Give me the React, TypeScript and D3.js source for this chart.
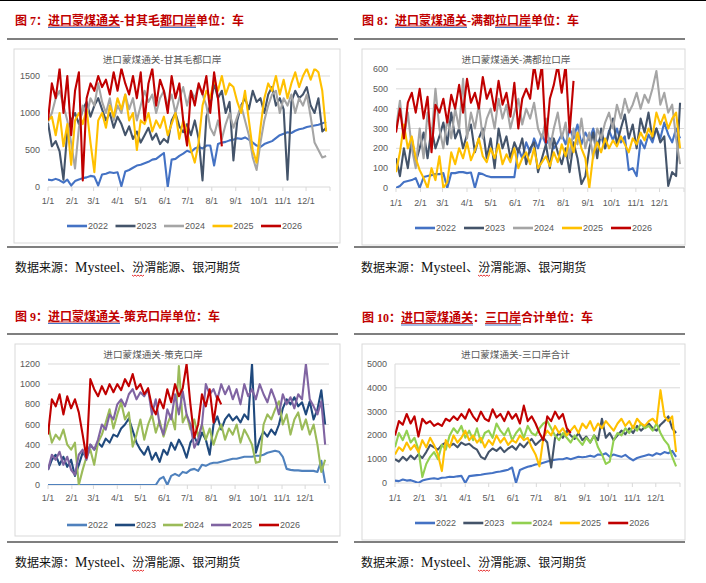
import * as d3 from 'd3'

// one value every 5 days, starting 1/1
const STEP = 5
const YEAR_DAYS = 365
const years = ['2022', '2023', '2024', '2025', '2026']
const monthStarts = [0, 31, 59, 90, 120, 151, 181, 212, 243, 273, 304, 334]
const monthLabels = ['1/1', '2/1', '3/1', '4/1', '5/1', '6/1', '7/1', '8/1', '9/1', '10/1', '11/1', '12/1']

// 甘其毛都口岸
const gqmd2022 = [
  100, 90, 110, 90, 60, 100, 20, 80, 100, 120,
  130, 150, 140, 20, 170, 180, 200, 190, 200, 10,
  210, 230, 260, 290, 300, 320, 340, 370, 380, 420,
  460, 0, 370, 380, 420, 450, 490, 470, 520, 540,
  520, 560, 560, 290, 580, 600, 610, 630, 640, 660,
  650, 670, 640, 600, 560, 540, 580, 600, 620, 660,
  700, 720, 740, 730, 760, 780, 790, 810, 820, 830,
  840, 860, 880,
]
const gqmd2023 = [
  870, 550, 620, 480, 100, 750, 900, 1000, 850, 1050,
  1150, 950, 1100, 1200, 1050, 900, 1000, 800, 950, 850,
  700, 820, 650, 750, 600, 700, 800, 640, 720, 580,
  650, 600, 900, 1000, 820, 740, 850, 700, 900, 650,
  90, 950, 1100, 1400, 1200, 1300, 1000, 1150, 360, 900,
  1100, 1200, 1050, 1300, 1150, 1200, 1000, 1250, 1350, 1100,
  1200, 1050, 100, 1150, 1300, 1200, 1250, 1350, 1100, 1000,
  1200, 750, 800,
]
const gqmd2024 = [
  880, 1000, 1200, 1300, 1100, 900, 600, 250, 800, 1100,
  950, 1200, 1100, 1400, 1150, 1000, 1200, 900, 1100, 1000,
  1250, 1050, 1200, 900, 1100, 1300, 1150, 1250, 1000, 1200,
  1300, 1100, 1250, 1000, 1200, 1350, 1100, 1300, 1200, 1380,
  1250, 1100, 800, 700, 900, 650, 850, 1000, 800, 950,
  1100, 900, 700, 400, 230, 600, 900, 1100, 1250, 1300,
  1000, 1200, 1100, 1250, 1000, 1200, 1100, 1250, 950, 600,
  500, 400, 420,
]
const gqmd2025 = [
  900, 950, 700, 1000, 550, 850, 300, 900, 1000, 850,
  1050, 600, 200, 900, 1000, 800, 1100, 950, 1200, 1050,
  1250, 900, 1000, 500, 900, 850, 1000, 750, 900, 800,
  950, 700, 850, 1000, 650, 900, 750, 500, 330, 600,
  1100, 1300, 1200, 1450, 1300, 1500, 1250, 1400, 1350, 1150,
  1000, 1300, 900, 500, 330, 800, 1200, 1400, 1300, 1500,
  1250, 1450, 1200, 1400, 1550, 1350, 1500, 1600, 1450, 1600,
  1550, 1300, 750,
]
const gqmd2026 = [
  900, 1400, 1200, 1600, 1000, 1500, 700, 1300, 1550, 90,
  1200, 1400, 1300, 1500, 1350, 1450, 1250, 1550, 1300, 1600,
  1400, 1250, 1500, 1200, 1550, 900, 1400, 1600, 1100, 1450,
  1300, 1000, 1500, 1200, 1400, 900, 560, 1300, 1100, 1400,
  1250, 1500, 1000, 1550, 1200, 550,
]

// 满都拉口岸
const mdl2022 = [
  0, 10, 30, 35, 40, 50, 0, 55, 60, 65,
  70, 70, 75, 0, 75, 75, 80, 80, 75, 78,
  0, 75, 70, 60, 55, 55, 55, 55, 55, 55,
  55, 200, 150, 230, 180, 250, 200, 270, 220, 250,
  200, 230, 270, 220, 300, 250, 320, 220, 280, 240,
  300, 220, 260, 200, 290, 240, 300, 230, 260, 90,
  100, 60, 240, 200, 270, 230, 300, 250, 330, 270,
  230, 300, 250,
]
const mdl2023 = [
  150, 60, 200, 100, 250, 130, 200, 280, 150, 300,
  200, 260, 330, 220, 380, 250, 300, 200, 270, 320,
  180, 250, 300, 150, 250, 100, 300, 200, 260, 150,
  230, 180, 250, 120, 200, 230, 80, 150, 220, 100,
  250, 180, 120, 200, 80, 230, 150, 20, 60, 200,
  280, 150, 300, 200, 280, 350, 220, 300, 370, 250,
  320, 200, 350, 280, 380, 250, 300, 230, 260, 10,
  80, 60, 430,
]
const mdl2024 = [
  300, 440, 250, 380, 200, 100, 300, 150, 380, 250,
  500, 300, 200, 350, 250, 400, 300, 550, 250, 380,
  300, 420, 250, 350, 400, 300, 450, 350, 420, 300,
  380, 450, 320, 400, 350, 430, 300, 250, 350, 200,
  300, 380, 250, 330, 150, 300, 220, 350, 200, 280,
  150, 300, 250, 330, 380, 300, 420, 350, 450, 380,
  420, 480, 400, 470, 430, 500, 590, 420, 480, 380,
  420, 250, 120,
]
const mdl2025 = [
  80, 180, 320, 200, 260, 150, 90, 50, 0, 100,
  40, 160, 0, 30, 180, 120, 200, 150, 230, 140,
  190, 250, 160, 130, 200, 150, 220, 120, 170, 130,
  200, 100, 150, 180, 120, 200, 100, 130, 160, 110,
  180, 130, 220, 160, 250, 180, 280, 200, 150, 0,
  170, 230, 180, 250, 200, 240, 210, 260, 220, 180,
  250, 220, 280, 240, 300, 260, 380, 320, 370, 300,
  350, 380, 200,
]
const mdl2026 = [
  280, 400, 250, 430, 480, 380, 500, 350, 460, 180,
  420, 380, 450, 330, 470, 400, 520, 380, 550, 430,
  480, 400, 560, 450, 500, 390, 540, 420, 480, 360,
  530, 300, 450, 500, 450, 620, 500, 620, 230, 450,
  520, 620, 480, 620, 280, 540,
]

// 策克口岸
const ck2022 = [
  0, 0, 0, 0, 0, 0, 0, 0, 0, 0,
  0, 0, 0, 0, 0, 0, 0, 0, 0, 0,
  0, 0, 0, 0, 0, 0, 0, 0, 0, 60,
  80, 0, 90, 110, 90, 130, 120, 150, 160, 140,
  200, 190, 210, 220, 220, 230, 240, 250, 260, 260,
  270, 280, 280, 280, 290, 290, 300, 320, 330, 340,
  330, 280, 160, 150, 145, 145, 140, 140, 140, 140,
  130, 240, 20,
]
const ck2023 = [
  150, 250, 300, 200, 280, 180, 250, 90, 200, 320,
  280, 400, 350, 420, 380, 460, 420, 500, 480, 560,
  600, 660, 540, 420, 350, 300, 380, 250, 320, 230,
  350, 300, 420, 350, 450, 380, 270, 420, 480, 400,
  520, 450, 300, 600, 680, 550, 650, 700, 640, 680,
  620, 700, 650, 1200, 320, 450, 530, 480, 550, 500,
  600, 760, 850, 800, 870, 780, 820, 700, 830, 650,
  750, 940, 600,
]
const ck2024 = [
  600, 420, 500, 450, 550, 400, 350, 420, 0, 150,
  280, 350, 200, 420, 500, 620, 750, 560, 700, 820,
  650, 720, 380, 500, 650, 450, 600, 700, 520, 640,
  480, 600, 700, 550, 1180, 620, 700, 550, 650, 480,
  600, 450, 560, 400, 520, 600, 450, 560, 500, 600,
  420, 550, 480, 400, 220, 230, 600, 700, 650, 750,
  830, 600, 700, 500, 650, 720, 550, 650, 500, 600,
  400, 130, 250,
]
const ck2025 = [
  150, 300, 250, 330, 200, 280, 150, 100, 300, 350,
  250, 400, 350, 450, 600, 550, 700, 650, 800, 850,
  780, 900, 950, 850, 920, 880, 950, 700, 850, 600,
  500, 750, 650, 900, 700, 930, 700, 600, 370, 450,
  600, 1000, 900, 950, 850, 1000, 900, 980, 850, 950,
  800, 1000, 880, 950, 850, 1000, 900, 820, 950, 850,
  700, 900, 800, 870, 760, 900, 850, 1200, 850, 780,
  700, 830, 400,
]
const ck2026 = [
  500, 850, 780, 900, 700, 880, 760, 850, 720, 500,
  270, 1050, 950, 880, 980, 900, 1000, 920, 1000, 940,
  1050, 980, 1100, 950, 1000, 900, 960, 780, 700, 850,
  760, 950, 820, 1000, 880, 960, 1200, 800, 470, 600,
  900, 780, 950, 620, 880, 800,
]

// 三口岸合计
const total2022 = [
  100, 80, 150, 100, 120, 60, 0, 100, 150, 180,
  200, 170, 220, 230, 260, 250, 280, 300, 0, 290,
  310, 330, 350, 380, 400, 420, 460, 480, 520, 560,
  650, 0, 550, 620, 680, 720, 780, 800, 850, 900,
  950, 980, 1000, 1000, 1050, 1000, 1050, 1100, 1080, 1100,
  1150, 1100, 1200, 1180, 1250, 1100, 1200, 1150, 1100, 1180,
  1050, 950, 1050, 1100, 1150, 1200, 1150, 1250, 1200, 1300,
  1250, 1350, 1100,
]
const total2023 = [
  1000, 900, 1100, 950, 1150, 1000, 1200, 1050, 1300, 1600,
  1500, 1400, 1600, 1700, 1550, 1650, 1500, 1700, 1600, 1650,
  1500, 1400, 1100, 1000, 1300, 1450, 1350, 1500, 1300, 1450,
  1550, 1400, 1650, 1500, 1700, 1850, 1600, 1750, 1900, 1700,
  650, 1900, 2100, 1900, 2200, 2000, 1850, 2100, 1800, 1950,
  1700, 2000, 1800, 2700, 1900, 2100, 1800, 2000, 2200, 2050,
  2300, 2100, 2400, 2200, 2350, 2500, 2300, 2200, 2450, 2600,
  2800, 2300, 2100,
]
const total2024 = [
  1500, 2100, 1800, 2200, 1700, 1900, 1400, 250, 800, 1100,
  1300, 1000, 1600, 1400, 2000, 2300, 2100, 2400, 1900, 2200,
  1800, 2300, 1700, 2100, 2200, 1900, 2500, 2200, 2000, 2300,
  1800, 2100, 2300, 1900, 2400, 2100, 2000, 2300, 2500, 2600,
  2300, 2000, 1800, 2100, 1900, 1700, 2000, 1800, 1600, 1900,
  1700, 2000, 1500, 1200, 800, 900, 1800, 2100, 2000, 2300,
  2100, 2400, 2200, 2500, 2300, 2400, 2200, 2500, 2100, 1800,
  1600, 1100, 700,
]
const total2025 = [
  1200, 1500, 1350, 1700, 1400, 1600, 1300, 1800, 1500, 1900,
  1600, 1200, 500, 1800, 1500, 2000, 1700, 1900, 2200, 1800,
  2000, 1700, 1900, 1500, 1800, 1600, 2000, 1700, 1900, 1600,
  1800, 1700, 2000, 1800, 1900, 1500, 1200, 700, 1900, 2200,
  2000, 2400, 2100, 2300, 2000, 2200, 2400, 2100, 2500, 2300,
  2600, 2200, 2500, 2300, 2600, 2400, 2200, 2500, 2700, 2400,
  2600, 2300, 2700, 2500, 2400, 2600, 2700, 2500, 3900, 2800,
  2600, 2800, 1300,
]
const total2026 = [
  2000, 2600, 2450, 2900, 2500, 2800, 1950, 2700, 2500, 2600,
  2400, 2500, 2400, 2700, 2600, 2800, 2650, 2900, 2700, 3100,
  2800, 2600, 3000, 2700, 2600, 3100, 2750, 2900, 2600, 3000,
  2700, 2900, 2500, 3250, 2600, 2800, 2500, 2100, 1800, 2800,
  2600, 3000, 2700, 2900, 2300, 2100,
]

const SERIF = "'Liberation Serif', 'Noto Sans CJK SC', serif"
const SANS = "'Liberation Sans', 'Noto Sans CJK SC', sans-serif"
const CJK = "'Noto Sans CJK SC', sans-serif"
const GRID = '#D9D9D9'
const LABEL = '#595959'

interface Seg {
  t: string
  u?: boolean
}

interface Layout {
  x0: number
  x1: number
  titleX: number
  titleY: number
  ruleTop: number
  ruleBottom: number
  box: { x: number; y: number; w: number; h: number }
  plot: { l: number; r: number; t: number; b: number }
  ctX: number
  ctY: number
  xLabY: number
  legX: number
  legY: number
  legGap: number
  srcX: number
  srcY: number
  yAxisLine?: boolean
}

function textWidth(s: string, fs: number) {
  let w = 0
  for (const ch of s) {
    if (ch.charCodeAt(0) > 0x2e80) w += fs
    else if (ch === ' ') w += fs * 0.25
    else if (ch === '-') w += fs * 0.333
    else w += fs * 0.5
  }
  return w
}

function wavy(x: number, y: number, w: number) {
  let d = `M${x},${y}`
  for (let i = 0; i < w; i += 3) {
    d += ` l1.5,1.2 l1.5,-1.2`
  }
  return d
}

interface PanelProps {
  id: string
  title: Seg[]
  chartTitle: string
  series: number[][]
  colors: string[]
  yMax: number
  yTicks: number[]
  L: Layout
}

const Panel = ({ id, title, chartTitle, series, colors, yMax, yTicks, L }: PanelProps) => {
  const x = d3.scaleLinear().domain([0, YEAR_DAYS]).range([L.plot.l, L.plot.r])
  const y = d3.scaleLinear().domain([0, yMax]).range([L.plot.b, L.plot.t])
  const line = d3
    .line<number>()
    .x((_, i) => x(i * STEP))
    .y((d) => y(d))

  const fs = 12
  let cx = L.titleX
  const segs = title.map((s) => {
    const w = textWidth(s.t, fs)
    const r = { ...s, x: cx, w }
    cx += w
    return r
  })

  const srcFs = 12
  const wavyX = L.srcX + srcFs * 5 + 45 + srcFs

  return (
    <g>
      <defs>
        <clipPath id={id}>
          <rect x={L.plot.l} y={L.plot.t} width={L.plot.r - L.plot.l} height={L.plot.b - L.plot.t} />
        </clipPath>
      </defs>

      {segs.map((s, i) => (
        <g key={i}>
          <text x={s.x} y={L.titleY} fontSize={fs} fontWeight="bold" fill="#C00000" fontFamily={SERIF}>
            {s.t}
          </text>
          {s.u && (
            <>
              <line x1={s.x} x2={s.x + s.w} y1={L.titleY + 1.5} y2={L.titleY + 1.5} stroke="#C00000" strokeWidth={0.8} />
              <line x1={s.x} x2={s.x + s.w} y1={L.titleY + 3} y2={L.titleY + 3} stroke="#4472C4" strokeWidth={1} />
            </>
          )}
        </g>
      ))}
      <line x1={L.x0} x2={L.x1} y1={L.ruleTop} y2={L.ruleTop} stroke="#000" strokeWidth={1.2} />

      <rect x={L.box.x} y={L.box.y} width={L.box.w} height={L.box.h} fill="#fff" stroke={GRID} strokeWidth={1} />
      <text x={L.ctX} y={L.ctY} fontSize={9.6} fill={LABEL} textAnchor="middle" fontFamily={CJK}>
        {chartTitle}
      </text>

      {yTicks.map((v) => (
        <g key={v}>
          {v > 0 && <line x1={L.plot.l} x2={L.plot.r} y1={y(v)} y2={y(v)} stroke={GRID} strokeWidth={1} />}
          <text x={L.plot.l - 8} y={y(v) + 3} fontSize={9} fill={LABEL} textAnchor="end" fontFamily={SANS}>
            {v}
          </text>
        </g>
      ))}
      {L.yAxisLine && <line x1={L.plot.l} x2={L.plot.l} y1={L.plot.t} y2={L.plot.b} stroke={GRID} strokeWidth={1} />}

      <line x1={L.plot.l} x2={L.plot.r} y1={L.plot.b} y2={L.plot.b} stroke={GRID} strokeWidth={1} />
      {[...monthStarts, YEAR_DAYS].map((d) => (
        <line key={d} x1={x(d)} x2={x(d)} y1={L.plot.b} y2={L.plot.b + 4} stroke={GRID} strokeWidth={1} />
      ))}
      {monthLabels.map((m, i) => (
        <text key={m} x={x(monthStarts[i])} y={L.xLabY} fontSize={9} fill={LABEL} textAnchor="middle" fontFamily={SANS}>
          {m}
        </text>
      ))}

      <g clipPath={`url(#${id})`}>
        {series.map((s, i) => (
          <path
            key={years[i]}
            d={line(s) ?? ''}
            fill="none"
            stroke={colors[i]}
            strokeWidth={2.1}
            strokeLinejoin="round"
          />
        ))}
      </g>

      {years.map((yr, i) => {
        const lx = L.legX + i * L.legGap
        return (
          <g key={yr}>
            <line x1={lx} x2={lx + 20} y1={L.legY} y2={L.legY} stroke={colors[i]} strokeWidth={2.6} />
            <text x={lx + 21} y={L.legY + 3} fontSize={9} fill={LABEL} fontFamily={SANS}>
              {yr}
            </text>
          </g>
        )
      })}

      <line x1={L.x0} x2={L.x1} y1={L.ruleBottom} y2={L.ruleBottom} stroke="#000" strokeWidth={1.2} />
      <text x={L.srcX} y={L.srcY} fontSize={srcFs} fill="#111" fontFamily={SERIF}>
        <tspan>数据来源：</tspan>
        <tspan fontSize={14}>Mysteel</tspan>
        <tspan>、汾渭能源、银河期货</tspan>
      </text>
      <path d={wavy(wavyX, L.srcY + 3, 12)} fill="none" stroke="#E00000" strokeWidth={0.8} />
    </g>
  )
}

const layoutGqmd: Layout = {
  x0: 7, x1: 338, titleX: 15, titleY: 24.5, ruleTop: 39, ruleBottom: 247,
  box: { x: 14, y: 49, w: 326, h: 194 },
  plot: { l: 48, r: 330, t: 68.6, b: 187 },
  ctX: 162, ctY: 62.5, xLabY: 203.5, legX: 67, legY: 226, legGap: 48.5, srcX: 15, srcY: 272,
}
const layoutMdl: Layout = {
  x0: 354, x1: 685, titleX: 362, titleY: 24.5, ruleTop: 39, ruleBottom: 247,
  box: { x: 362, y: 49, w: 323, h: 196 },
  plot: { l: 396, r: 684, t: 69, b: 188 },
  ctX: 516, ctY: 62.5, xLabY: 205.5, legX: 415, legY: 228, legGap: 49, srcX: 361, srcY: 272,
}
const layoutCk: Layout = {
  x0: 7, x1: 338, titleX: 15, titleY: 320.5, ruleTop: 334, ruleBottom: 542,
  box: { x: 15, y: 344, w: 325, h: 192 },
  plot: { l: 48, r: 329, t: 364, b: 485 },
  ctX: 153, ctY: 357.5, xLabY: 500.5, legX: 67, legY: 525, legGap: 48, srcX: 15, srcY: 567,
}
const layoutTotal: Layout = {
  x0: 354, x1: 685, titleX: 362, titleY: 322, ruleTop: 334, ruleBottom: 542,
  box: { x: 362, y: 344, w: 323, h: 196 },
  plot: { l: 395, r: 680, t: 364, b: 483 },
  ctX: 515.5, ctY: 357.5, xLabY: 500.5, legX: 415, legY: 523, legGap: 48.3, srcX: 361, srcY: 567,
  yAxisLine: true,
}

const colorsA = ['#4472C4', '#44546A', '#A5A5A5', '#FFC000', '#C00000']
const colorsCk = ['#4F81BD', '#1F497D', '#9BBB59', '#8064A2', '#C00000']
const colorsTotal = ['#4472C4', '#44546A', '#92D050', '#FFC000', '#C00000']

const App = () => {
  return (
    <svg
      width={706}
      height={583}
      viewBox="0 0 706 583"
      style={{ position: 'absolute', left: 0, top: 0, background: '#fff' }}
    >
      <rect x={0} y={0} width={706} height={583} fill="#fff" />
      <line x1={0} x2={706} y1={0.5} y2={0.5} stroke="#000" strokeWidth={1} />
      <Panel
        id="clip-gqmd"
        title={[{ t: '图 7：' }, { t: '进口蒙煤通关', u: true }, { t: '-甘其毛' }, { t: '都口岸', u: true }, { t: '单位：车' }]}
        chartTitle="进口蒙煤通关-甘其毛都口岸"
        series={[gqmd2022, gqmd2023, gqmd2024, gqmd2025, gqmd2026]}
        colors={colorsA}
        yMax={1600}
        yTicks={[0, 500, 1000, 1500]}
        L={layoutGqmd}
      />
      <Panel
        id="clip-mdl"
        title={[{ t: '图 8：' }, { t: '进口蒙煤通关', u: true }, { t: '-满都' }, { t: '拉口岸', u: true }, { t: '单位：车' }]}
        chartTitle="进口蒙煤通关-满都拉口岸"
        series={[mdl2022, mdl2023, mdl2024, mdl2025, mdl2026]}
        colors={colorsA}
        yMax={600}
        yTicks={[0, 100, 200, 300, 400, 500, 600]}
        L={layoutMdl}
      />
      <Panel
        id="clip-ck"
        title={[{ t: '图 9：' }, { t: '进口蒙煤通关', u: true }, { t: '-策克口岸单位：车' }]}
        chartTitle="进口蒙煤通关-策克口岸"
        series={[ck2022, ck2023, ck2024, ck2025, ck2026]}
        colors={colorsCk}
        yMax={1200}
        yTicks={[0, 200, 400, 600, 800, 1000, 1200]}
        L={layoutCk}
      />
      <Panel
        id="clip-total"
        title={[{ t: '图 10：' }, { t: '进口蒙煤通关', u: true }, { t: '：' }, { t: '三口岸', u: true }, { t: '合计单位：车' }]}
        chartTitle="进口蒙煤通关-三口岸合计"
        series={[total2022, total2023, total2024, total2025, total2026]}
        colors={colorsTotal}
        yMax={5000}
        yTicks={[0, 1000, 2000, 3000, 4000, 5000]}
        L={layoutTotal}
      />
    </svg>
  )
}

export default App
